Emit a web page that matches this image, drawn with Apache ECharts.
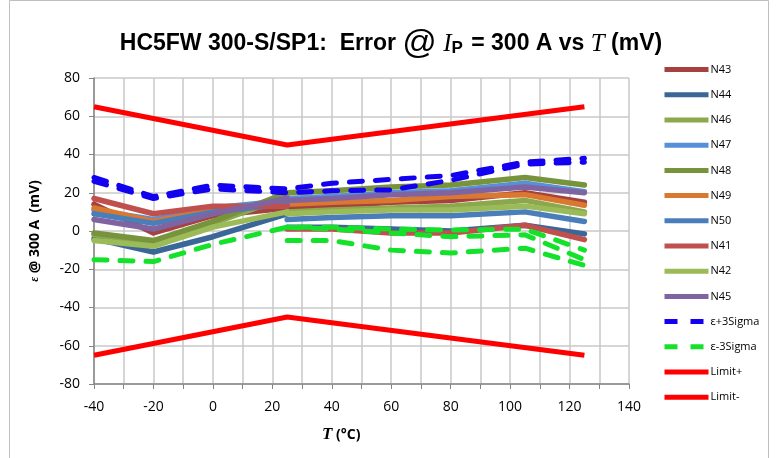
<!DOCTYPE html>
<html><head><meta charset="utf-8">
<script src="https://cdn.jsdelivr.net/npm/echarts@6/dist/echarts.min.js"></script>
<style>html,body{margin:0;padding:0;background:#fff}#c{width:777px;height:458px}</style>
</head><body><div id="c"></div>
<script>
// Temperatures (°C): cold run then hot run (both include 25 °C)
const tempCold = [-40, -20, 0, 25];
const tempHot = [25, 40, 60, 80, 105, 125];
const tempFull = [-40, -20, 0, 25, 40, 60, 80, 105, 125];
const tempLimit = [-40, 25, 125];

// Error values (mV) per sensor
const n43Cold = [14, -1, 8, 12];   const n43Hot = [12, 13, 15, 16, 20, 15];
const n44Cold = [-4, -11, -3, 9];  const n44Hot = [2, 2, 1, 0, 3, -1.5];
const n46Cold = [-2, -6, 4, 18];   const n46Hot = [10, 11, 12, 13, 16, 10];
const n47Cold = [11, 6, 12, 16];   const n47Hot = [17, 18, 20, 21, 25, 20.5];
const n48Cold = [-1, -5, 5, 20];   const n48Hot = [20, 21, 23, 24, 28, 24];
const n49Cold = [12, 5, 11, 15];   const n49Hot = [14, 15, 16, 18, 19, 13.5];
const n50Cold = [9, 4, 10, 14];    const n50Hot = [6, 7, 8, 8, 10, 5];
const n41Cold = [17, 9, 13, 13];   const n41Hot = [1, 1, -1, -1, 3, -4.5];
const n42Cold = [-5, -8, 2, 10];   const n42Hot = [9, 10, 11, 11, 13, 9];
const n45Cold = [6, 1, 9, 17];     const n45Hot = [16, 17, 19, 20, 23, 20];

const plusSigmaA = [28, 18, 24, 22, 25, 27, 29, 36, 38];
const plusSigmaB = [26, 17, 22, 20, 21, 21.5, 26.5, 35, 36];
const minusSigmaA = [-15, -16, -7, 2, 2, 1, 0.5, 1, -10];
const minusSigmaB = [-5, -5, -10, -11.5, -9, -18];
const minusSigmaC = [2, 1, -1, -3, -2, -15];

const limitPlus = [65, 45, 65];
const limitMinus = [-65, -45, -65];

const yTicks = [-80, -60, -40, -20, 0, 20, 40, 60, 80];
const xTicks = [-40, -20, 0, 20, 40, 60, 80, 100, 120, 140];

const legendNames = ['N43','N44','N46','N47','N48','N49','N50','N41','N42','N45','\u03B5+3Sigma','\u03B5-3Sigma','Limit+','Limit-'];

function zip(xs, ys) { return xs.map((x, i) => [x, ys[i]]); }

const sensors = [
  ['N43', '#A5413E', n43Cold, n43Hot],
  ['N44', '#3A6698', n44Cold, n44Hot],
  ['N46', '#8BA84D', n46Cold, n46Hot],
  ['N47', '#5590D8', n47Cold, n47Hot],
  ['N48', '#77933C', n48Cold, n48Hot],
  ['N49', '#D9782E', n49Cold, n49Hot],
  ['N50', '#4A7EBB', n50Cold, n50Hot],
  ['N41', '#C0504D', n41Cold, n41Hot],
  ['N42', '#9BBB59', n42Cold, n42Hot],
  ['N45', '#8064A2', n45Cold, n45Hot]
];

const series = [];
sensors.forEach(s => {
  [zip(tempCold, s[2]), zip(tempHot, s[3])].forEach(d => {
    series.push({
      name: s[0], type: 'line', symbol: 'none', color: s[1],
      lineStyle: { width: 5.5, color: s[1], cap: 'round', join: 'round' },
      data: d
    });
  });
});
const dash = [13, 13];
function sig(name, col, d) {
  series.push({ name: name, type: 'line', symbol: 'none', color: col,
    lineStyle: { width: 5, type: dash, color: col, cap: 'round' }, data: d });
}
sig('\u03B5+3Sigma', '#1400F0', zip(tempFull, plusSigmaA));
sig('\u03B5+3Sigma', '#1400F0', zip(tempFull, plusSigmaB));
sig('\u03B5-3Sigma', '#14E22A', zip(tempFull, minusSigmaA));
sig('\u03B5-3Sigma', '#14E22A', zip(tempHot, minusSigmaB));
sig('\u03B5-3Sigma', '#14E22A', zip(tempHot, minusSigmaC));
series.push({ name: 'Limit+', type: 'line', symbol: 'none', color: '#FF0000',
  lineStyle: { width: 5, color: '#FF0000' }, data: zip(tempLimit, limitPlus) });
series.push({ name: 'Limit-', type: 'line', symbol: 'none', color: '#FF0000',
  lineStyle: { width: 5, color: '#FF0000' }, data: zip(tempLimit, limitMinus) });

const chart = echarts.init(document.getElementById('c'), null, { renderer: 'canvas' });
const gridColor = '#C8C8C8';
const tickFont = 'Open Sans, Lato, sans-serif';
chart.setOption({
  animation: false,
  backgroundColor: '#fff',
  grid: { left: 94, right: 148, top: 78, bottom: 74 },
  legend: {
    data: legendNames, orient: 'vertical', left: 657, top: 59,
    itemWidth: 44, itemHeight: 14, itemGap: 14,
    lineStyle: { width: 5, cap: 'butt' },
    textStyle: { fontFamily: tickFont, fontSize: 11, color: '#000', padding: [0, 0, 0, -3] },
    itemStyle: { opacity: 0 }
  },
  xAxis: {
    type: 'value', min: xTicks[0], max: xTicks[xTicks.length - 1], interval: 20,
    axisLine: { onZero: false, lineStyle: { color: '#868686', width: 1.5 } },
    axisTick: { show: true, length: 5, lineStyle: { color: '#868686' } },
    minorTick: { show: true, splitNumber: 2, length: 5, lineStyle: { color: '#868686' } },
    splitLine: { show: true, lineStyle: { color: gridColor, width: 1.5 } },
    minorSplitLine: { show: true, lineStyle: { color: gridColor, width: 1.5 } },
    axisLabel: { color: '#000', fontSize: 14, fontFamily: tickFont, margin: 16 }
  },
  yAxis: {
    type: 'value', min: yTicks[0], max: yTicks[yTicks.length - 1], interval: 20,
    axisLine: { show: true, onZero: false, lineStyle: { color: '#868686', width: 1.5 } },
    axisTick: { show: true, length: 5, lineStyle: { color: '#868686' } },
    splitLine: { show: true, lineStyle: { color: gridColor, width: 1.5 } },
    axisLabel: { color: '#000', fontSize: 14, fontFamily: tickFont, margin: 14 },
    name: '{e|\u03B5} @ 300 A  (mV)', nameLocation: 'middle', nameRotate: 90, nameGap: 52,
    nameTextStyle: { color: '#000', fontSize: 14, fontWeight: 'bold', fontFamily: tickFont,
      rich: { e: { fontSize: 12, fontStyle: 'italic', fontFamily: 'Liberation Serif, serif', color: '#000' } } }
  },
  graphic: [
    { type: 'rect', shape: { x: 9.5, y: 0.5, width: 759, height: 470 }, style: { fill: 'none', stroke: '#BFBFBF', lineWidth: 1 }, silent: true },
    { type: 'text',
      style: {
        x: 391, y: 44, align: 'center', verticalAlign: 'middle',
        text: '{a|HC5FW 300-S/SP1:  Error }{at|@}{a| }{i|I}{sub|P}{a| = 300 A vs }{i|T}{a| (mV)}',
        rich: {
          a: { fontFamily: 'Liberation Sans, Arial, sans-serif', fontWeight: 'bold', fontSize: 23, fill: '#000' },
          at: { fontFamily: 'Liberation Sans, Arial, sans-serif', fontSize: 34, fill: '#000' },
          i: { fontFamily: 'Liberation Serif, serif', fontStyle: 'italic', fontSize: 25, fill: '#000' },
          sub: { fontFamily: 'Liberation Sans, Arial, sans-serif', fontWeight: 'bold', fontSize: 17, fill: '#000', padding: [9, 2, 0, 0] }
        }
      } },
    { type: 'text',
      style: {
        x: 322, y: 435, verticalAlign: 'middle',
        text: '{i|T}{a| (°C)}',
        rich: {
          i: { fontFamily: 'Liberation Serif, serif', fontStyle: 'italic', fontWeight: 'bold', fontSize: 17, fill: '#000' },
          a: { fontFamily: tickFont, fontWeight: 'bold', fontSize: 14, fill: '#000' }
        }
      } }
  ],
  series: series
});
</script></body></html>
